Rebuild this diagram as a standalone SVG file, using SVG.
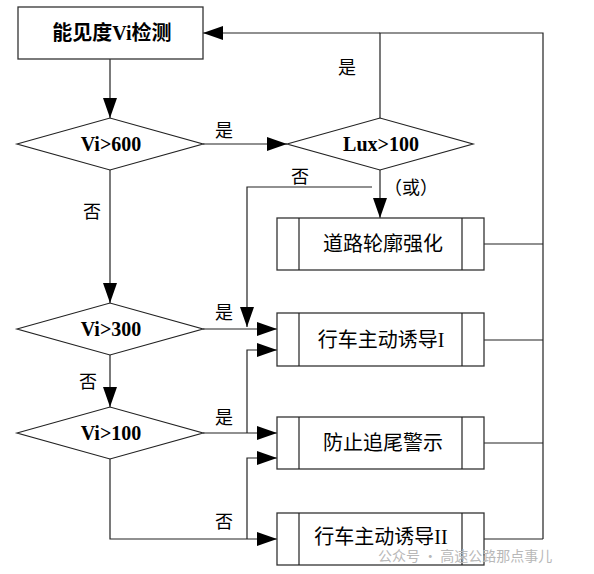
<svg xmlns="http://www.w3.org/2000/svg" width="594" height="574" viewBox="0 0 594 574">
<style>
.box{fill:#fff;stroke:#333;stroke-width:1.3}
.dia{fill:#fff;stroke:#222;stroke-width:1.2}
.ln{fill:none;stroke:#222;stroke-width:1.2}
.t{font-family:"Liberation Serif","Noto Sans CJK SC",serif;font-size:20px;fill:#000;text-anchor:middle;dominant-baseline:central}
.b{font-weight:bold}
.lb{font-family:"Liberation Serif","Noto Sans CJK SC",serif;font-size:18px;fill:#000;text-anchor:middle;dominant-baseline:central}
.wm{font-family:"Noto Sans CJK SC",sans-serif;font-size:14px;fill:#b8b8b8}
</style>
<defs>
<marker id="ar" markerWidth="20" markerHeight="14" refX="20" refY="7" orient="auto" markerUnits="userSpaceOnUse">
<path d="M0,0 L20,7 L0,14 Z" fill="#000"/>
</marker>
</defs>
<rect width="594" height="574" fill="#fff"/>
<g id="connectors">
<path class="ln" d="M110,59 V118" marker-end="url(#ar)"/>
<path class="ln" d="M203,144 H287" marker-end="url(#ar)"/>
<path class="ln" d="M380,118 V33 H543 V539"/>
<path class="ln" d="M380,33 H203" marker-end="url(#ar)"/>
<path class="ln" d="M380,170 V218" marker-end="url(#ar)"/>
<path class="ln" d="M372,187 H247 V327" marker-end="url(#ar)"/>
<path class="ln" d="M110,170 V303" marker-end="url(#ar)"/>
<path class="ln" d="M203,329 H277" marker-end="url(#ar)"/>
<path class="ln" d="M110,355 V407" marker-end="url(#ar)"/>
<path class="ln" d="M247,433 V350 H277" marker-end="url(#ar)"/>
<path class="ln" d="M203,433 H277" marker-end="url(#ar)"/>
<path class="ln" d="M247,539 V458 H277" marker-end="url(#ar)"/>
<path class="ln" d="M110,458 V539 H277" marker-end="url(#ar)"/>
<path class="ln" d="M484,244 H543 M484,340 H543 M484,443 H543 M484,539 H543"/>
<text class="lb" x="224" y="131">是</text>
<text class="lb" x="347" y="68">是</text>
<text class="lb" x="300" y="177">否</text>
<text class="lb" x="411" y="188">（或）</text>
<text class="lb" x="92" y="212">否</text>
<text class="lb" x="224" y="313">是</text>
<text class="lb" x="88" y="382">否</text>
<text class="lb" x="224" y="418">是</text>
<text class="lb" x="224" y="522">否</text>
</g>
<g id="n-detect">
<rect class="box" x="18" y="7" width="185" height="52"/>
<text class="t b" x="112" y="33">能见度Vi检测</text>
</g>
<g id="n-vi600">
<path class="dia" d="M17,144 L110,118 L203,144 L110,170 Z"/>
<text class="t b" x="111" y="144">Vi&gt;600</text>
</g>
<g id="n-lux">
<path class="dia" d="M287,144 L380,118 L473,144 L380,170 Z"/>
<text class="t b" x="381" y="144">Lux&gt;100</text>
</g>
<g id="n-vi300">
<path class="dia" d="M17,329 L110,303 L203,329 L110,355 Z"/>
<text class="t b" x="111" y="329">Vi&gt;300</text>
</g>
<g id="n-vi100">
<path class="dia" d="M17,433 L110,407 L203,433 L110,459 Z"/>
<text class="t b" x="111" y="433">Vi&gt;100</text>
</g>
<g id="n-contour">
<rect class="box" x="277" y="218" width="207" height="52"/>
<path class="ln" d="M299,218 V270 M462,218 V270" stroke="#333"/>
<text class="t" x="383" y="244">道路轮廓强化</text>
</g>
<g id="n-guide1">
<rect class="box" x="277" y="313" width="207" height="53"/>
<path class="ln" d="M299,313 V366 M462,313 V366"/>
<text class="t" x="381" y="340">行车主动诱导I</text>
</g>
<g id="n-rear">
<rect class="box" x="277" y="417" width="207" height="52"/>
<path class="ln" d="M299,417 V469 M462,417 V469"/>
<text class="t" x="383" y="443">防止追尾警示</text>
</g>
<g id="n-guide2">
<rect class="box" x="277" y="513" width="207" height="52"/>
<path class="ln" d="M299,513 V565 M462,513 V565"/>
<text class="t" x="381" y="537">行车主动诱导II</text>
</g>
<text class="wm" x="378" y="561">公众号 · 高速公路那点事儿</text>
</svg>
